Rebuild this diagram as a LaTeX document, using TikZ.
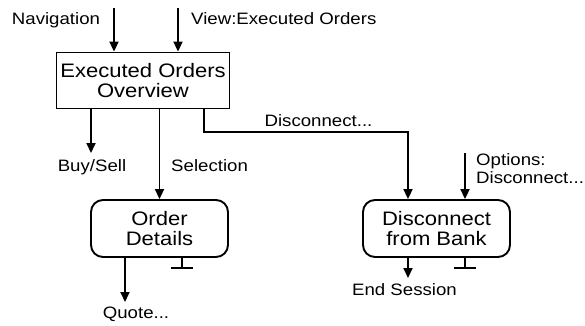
\documentclass[tikz,border=0pt]{standalone}
\usepackage{fontspec}
\setmainfont[FakeStretch=1.13]{Liberation Sans}
\usepackage{tikz}
\usetikzlibrary{arrows.meta}
\usetikzlibrary{positioning}
\tikzset{box/.style = {draw, line width = 1.9pt, inner sep = 0, minimum width = 173, minimum height = 56, align = center, font = \fontsize{19.5}{20}\selectfont}}
\tikzset{rbox/.style = {box, rounded corners = 12pt}}
\tikzset{flow/.style = {line width = 1.9pt, -{Triangle[length = 10pt, width = 9pt]}}}
\tikzset{stub/.style = {line width = 1.9pt}}
\tikzset{lbl/.style = {inner sep = 0, font = \fontsize{16.5}{18}\selectfont}}

\begin{document}
\begin{tikzpicture}[x = 1pt, y = -1pt]
    \useasboundingbox (0, 0) rectangle (585, 325);

    % screens
    \node [box] (overview) at (143, 80.5) {Executed Orders\\Overview};
    \node [rbox, minimum width = 137, minimum height = 57] (details) at (159.5, 228.5) {Order\\Details};
    \node [rbox, minimum width = 147, minimum height = 57] (bank) at (436.5, 228.5) {Disconnect\\from Bank};

    % labels
    \node [lbl, anchor = base] (nav) at (56, 24) {Navigation};
    \node [lbl, anchor = base west] (view) at (191, 24) {View:Executed Orders};
    \node [lbl, anchor = base] (disc) at (318.5, 126) {Disconnect...};
    \node [lbl, anchor = base] (buysell) at (92, 171) {Buy/Sell};
    \node [lbl, anchor = base west] (sel) at (171, 171) {Selection};
    \node [lbl, anchor = north west, align = left] (opts) at (476, 153) {Options:\\Disconnect...};
    \node [lbl, anchor = base] (endsess) at (404.5, 295) {End Session};
    \node [lbl, anchor = base] (quote) at (136, 318) {Quote...};

    % free ends
    \coordinate (navtop) at (114, 8);
    \coordinate (viewtop) at (178, 8);
    \coordinate (buyend) at (91, 153);
    \coordinate (kinka) at (204, 132);
    \coordinate (kinkb) at (408, 132);
    \coordinate (optstop) at (465, 153);
    \coordinate (endend) at (408, 278);
    \coordinate (quoteend) at (125, 302);
    \coordinate (stuba) at (182, 268);
    \coordinate (stubb) at (465, 268);

    \draw [flow] (navtop) -- (navtop |- overview.north);
    \draw [flow] (viewtop) -- (viewtop |- overview.north);
    \draw [flow] (overview.south -| buyend) -- (buyend);
    \draw [flow] (overview.south -| details.north) -- (details.north);
    \draw [flow] (overview.south -| kinka) -- (kinka) -- (kinkb) -- (kinkb |- bank.north);
    \draw [flow] (optstop) -- (optstop |- bank.north);
    \draw [flow] (bank.south -| endend) -- (endend);
    \draw [flow] (details.south -| quoteend) -- (quoteend);

    \draw [stub] (details.south -| stuba) -- (stuba) ++(-11, 0) -- ++(22, 0);
    \draw [stub] (bank.south -| stubb) -- (stubb) ++(-11, 0) -- ++(22, 0);
\end{tikzpicture}
\end{document}
